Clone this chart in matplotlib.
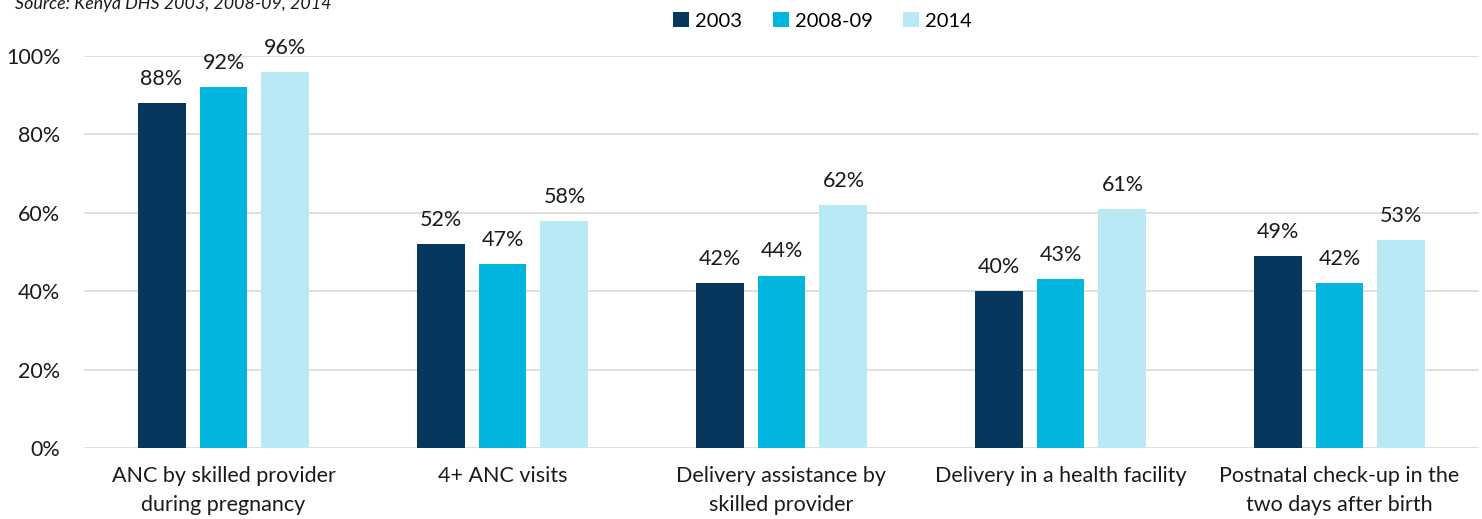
import numpy as np
import matplotlib.pyplot as plt

plt.rcParams['font.family'] = ['Lato', 'DejaVu Sans']

categories = ['ANC by skilled provider\nduring pregnancy', '4+ ANC visits',
              'Delivery assistance by\nskilled provider', 'Delivery in a health facility',
              'Postnatal check-up in the\ntwo days after birth']
years = ['2003', '2008-09', '2014']
vals_2003 = [88, 52, 42, 40, 49]
vals_2008 = [92, 47, 44, 43, 42]
vals_2014 = [96, 58, 62, 61, 53]
colors = ['#08375E', '#00B6DE', '#B9E9F4']

fig = plt.figure(figsize=(14.82, 5.19), dpi=100)
ax = fig.add_axes([84 / 1482, (519 - 448) / 519, (1479 - 84) / 1482, (448 - 56) / 519])

x = np.arange(len(categories))
w = 0.172
step = 0.222
for i, (vals, lab) in enumerate(zip([vals_2003, vals_2008, vals_2014], years)):
    pos = x + (i - 1) * step
    ax.bar(pos, vals, width=w, color=colors[i], label=lab, zorder=3)
    for px, v in zip(pos, vals):
        ax.text(px, v + 3.6, f'{v}%', ha='center', va='bottom', fontsize=15.5,
                color='#1a1a1a', clip_on=False)

ax.set_xlim(-0.5, len(categories) - 0.5)
ax.set_ylim(0, 100)
ax.set_yticks(range(0, 101, 20))
ax.set_yticklabels([f'{t}%' for t in range(0, 101, 20)])
ax.set_xticks(x)
ax.set_xticklabels(categories, linespacing=1.55)
ax.tick_params(axis='both', length=0, labelsize=15.5, colors='#1a1a1a')
ax.tick_params(axis='x', pad=13)
ax.tick_params(axis='y', pad=17)
ax.grid(axis='y', color='#D9D9D9', linewidth=1.2, zorder=0)
for s in ax.spines.values():
    s.set_visible(False)

fig.legend(loc='upper center', bbox_to_anchor=(0.555, 1.012), ncol=3, frameon=False,
           fontsize=14.5, handlelength=0.8, handleheight=0.8, columnspacing=1.5,
           handletextpad=0.3)
fig.text(0.01, 0.992, 'Source: Kenya DHS 2003, 2008-09, 2014', style='italic',
         fontsize=12.9, color='#1a1a1a', va='center', ha='left')

fig.savefig('out.png', dpi=100)
